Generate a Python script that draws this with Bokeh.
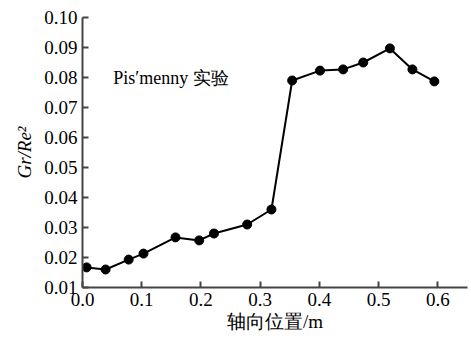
from bokeh.plotting import figure
from bokeh.models import Range1d, FixedTicker
from bokeh.core.properties import value
from bokeh.embed import file_html
from bokeh.resources import INLINE

x_pos = [0.007, 0.039, 0.078, 0.103, 0.157, 0.197, 0.222, 0.278, 0.319,
         0.354, 0.401, 0.440, 0.474, 0.519, 0.557, 0.594]
gr_re2 = [0.0167, 0.0160, 0.0193, 0.0213, 0.0267, 0.0257, 0.0280, 0.0310, 0.0360,
          0.0790, 0.0823, 0.0827, 0.0850, 0.0897, 0.0827, 0.0787]
x_ticks = [0.0, 0.1, 0.2, 0.3, 0.4, 0.5, 0.6]
x_labels = ["0.0", "0.1", "0.2", "0.3", "0.4", "0.5", "0.6"]
y_ticks = [0.01, 0.02, 0.03, 0.04, 0.05, 0.06, 0.07, 0.08, 0.09, 0.10]
y_labels = ["0.01", "0.02", "0.03", "0.04", "0.05", "0.06", "0.07", "0.08", "0.09", "0.10"]
note_text = ["Pis′menny 实验"]
note_x = [0.052]
note_y = [0.080]

FONT = "serif"

p = figure(width=471, height=340, output_backend="svg", toolbar_location=None,
           x_range=Range1d(0, 0.65), y_range=Range1d(0.01, 0.10),
           min_border_left=82, min_border_right=4, min_border_top=17, min_border_bottom=53)
p.outline_line_color = None
p.grid.visible = False
p.background_fill_color = "white"

p.line(x_pos, gr_re2, line_color="black", line_width=2)
p.scatter(x_pos, gr_re2, size=9, fill_color="black", line_color="black")
p.text(x=note_x, y=note_y, text=note_text, text_font=value(FONT), text_font_size="18px",
       text_baseline="middle", text_align="left", text_color="black")

for ax, ticks, labels in ((p.xaxis[0], x_ticks, x_labels), (p.yaxis[0], y_ticks, y_labels)):
    ax.ticker = FixedTicker(ticks=ticks)
    ax.major_label_overrides = {t: l for t, l in zip(ticks, labels)}
    ax.major_tick_in = 6
    ax.major_tick_out = 0
    ax.minor_tick_line_color = None
    ax.axis_line_color = "#444444"
    ax.axis_line_width = 2
    ax.major_tick_line_color = "#444444"
    ax.major_tick_line_width = 2
    ax.major_label_text_font = FONT
    ax.major_label_text_font_size = "19px"
    ax.major_label_text_color = "black"
    ax.major_label_standoff = 5
    ax.axis_label_text_font = FONT
    ax.axis_label_text_font_size = "19px"
    ax.axis_label_text_color = "black"
    ax.axis_label_text_font_style = "normal"

p.xaxis[0].axis_label = "轴向位置/m"
p.xaxis[0].axis_label_standoff = 2
p.yaxis[0].axis_label = "Gr/Re²"
p.yaxis[0].axis_label_text_font_style = "italic"
p.yaxis[0].axis_label_standoff = 6

open("out.html", "w").write(file_html(p, INLINE))
